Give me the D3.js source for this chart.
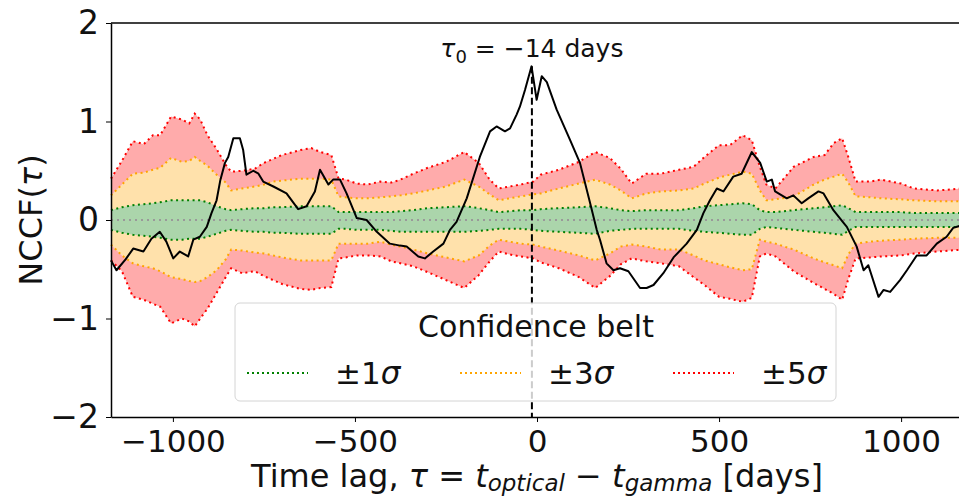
<!DOCTYPE html>
<html>
<head>
<meta charset="utf-8">
<script src="https://cdn.jsdelivr.net/npm/d3@7"></script>
<style>
body { margin: 0; background: #fff; }
svg { display: block; font-family: "DejaVu Sans", sans-serif; }
</style>
</head>
<body>
<div id="chart"></div>
<script>
let lags = [-1170, -1140, -1110, -1080, -1055, -1035, -1005, -975, -955, -940, -925, -905, -880, -855, -840, -810, -775, -750, -725, -700,
    -650, -620, -595, -565, -545, -525, -495, -465, -430, -400, -375, -340, -300, -250, -200, -160, -130, -105, -75, -45,
    -10, 10, 60, 115, 160, 200, 230, 260, 300, 340, 390, 430, 460, 500, 530, 565, 590, 612, 630, 655,
    705, 760, 790, 815, 838, 855, 875, 915, 945, 1000, 1035, 1100, 1170];

let sig5Up = [0.42, 0.60, 0.80, 0.77, 0.86, 0.86, 1.05, 1.02, 0.98, 1.08, 1.02, 0.86, 0.72, 0.56, 0.49, 0.50, 0.52, 0.58, 0.62, 0.66,
    0.71, 0.73, 0.69, 0.66, 0.42, 0.41, 0.37, 0.36, 0.39, 0.38, 0.41, 0.47, 0.53, 0.59, 0.69, 0.58, 0.41, 0.32, 0.34, 0.36,
    0.39, 0.46, 0.51, 0.59, 0.69, 0.63, 0.52, 0.37, 0.47, 0.47, 0.51, 0.54, 0.64, 0.76, 0.76, 0.86, 0.81, 0.54, 0.36, 0.32,
    0.54, 0.64, 0.66, 0.78, 0.83, 0.64, 0.39, 0.39, 0.41, 0.37, 0.32, 0.30, 0.32];

let sig3Up = [0.25, 0.36, 0.47, 0.48, 0.51, 0.53, 0.63, 0.59, 0.60, 0.64, 0.60, 0.55, 0.46, 0.38, 0.30, 0.32, 0.34, 0.36, 0.39, 0.40,
    0.42, 0.42, 0.42, 0.41, 0.24, 0.23, 0.22, 0.22, 0.23, 0.24, 0.25, 0.27, 0.30, 0.34, 0.41, 0.34, 0.26, 0.20, 0.22, 0.24,
    0.26, 0.27, 0.32, 0.37, 0.41, 0.36, 0.30, 0.22, 0.27, 0.29, 0.30, 0.32, 0.37, 0.43, 0.46, 0.49, 0.47, 0.30, 0.20, 0.21,
    0.24, 0.36, 0.41, 0.44, 0.47, 0.38, 0.24, 0.23, 0.22, 0.21, 0.20, 0.19, 0.19];

let sig1Up = [0.10, 0.13, 0.15, 0.16, 0.17, 0.18, 0.20, 0.20, 0.20, 0.20, 0.20, 0.18, 0.14, 0.11, 0.10, 0.11, 0.12, 0.12, 0.13, 0.13,
    0.14, 0.14, 0.14, 0.14, 0.08, 0.08, 0.08, 0.08, 0.08, 0.08, 0.09, 0.10, 0.12, 0.13, 0.14, 0.12, 0.10, 0.08, 0.09, 0.10,
    0.10, 0.11, 0.12, 0.13, 0.14, 0.12, 0.10, 0.09, 0.10, 0.10, 0.10, 0.12, 0.14, 0.15, 0.16, 0.17, 0.16, 0.10, 0.08, 0.08,
    0.10, 0.12, 0.13, 0.14, 0.15, 0.12, 0.08, 0.08, 0.08, 0.08, 0.07, 0.07, 0.07];

let sig1Lo = [-0.10, -0.13, -0.15, -0.16, -0.17, -0.18, -0.20, -0.20, -0.19, -0.19, -0.19, -0.17, -0.14, -0.11, -0.10, -0.11, -0.12, -0.12, -0.13, -0.13,
    -0.14, -0.14, -0.14, -0.14, -0.09, -0.09, -0.10, -0.10, -0.10, -0.11, -0.12, -0.12, -0.12, -0.12, -0.12, -0.11, -0.10, -0.09, -0.09, -0.09,
    -0.10, -0.11, -0.12, -0.13, -0.14, -0.11, -0.10, -0.09, -0.09, -0.09, -0.09, -0.11, -0.12, -0.13, -0.14, -0.15, -0.15, -0.09, -0.07, -0.08,
    -0.10, -0.12, -0.13, -0.14, -0.15, -0.11, -0.07, -0.07, -0.07, -0.07, -0.07, -0.07, -0.07];

let sig3Lo = [-0.25, -0.36, -0.44, -0.47, -0.49, -0.52, -0.58, -0.60, -0.62, -0.63, -0.62, -0.58, -0.51, -0.40, -0.30, -0.31, -0.33, -0.34, -0.36, -0.38,
    -0.41, -0.41, -0.41, -0.41, -0.24, -0.24, -0.24, -0.24, -0.22, -0.25, -0.27, -0.30, -0.34, -0.38, -0.42, -0.36, -0.26, -0.20, -0.22, -0.24,
    -0.25, -0.27, -0.31, -0.36, -0.41, -0.34, -0.27, -0.25, -0.27, -0.30, -0.30, -0.36, -0.41, -0.45, -0.48, -0.51, -0.50, -0.20, -0.22, -0.24,
    -0.30, -0.39, -0.43, -0.46, -0.49, -0.35, -0.24, -0.22, -0.21, -0.20, -0.19, -0.18, -0.18];

let sig5Lo = [-0.41, -0.52, -0.78, -0.81, -0.85, -0.88, -1.05, -1.00, -1.03, -1.08, -1.00, -0.90, -0.74, -0.58, -0.49, -0.54, -0.52, -0.57, -0.61, -0.65,
    -0.70, -0.71, -0.69, -0.68, -0.39, -0.38, -0.36, -0.36, -0.37, -0.42, -0.44, -0.47, -0.53, -0.61, -0.69, -0.56, -0.42, -0.32, -0.35, -0.37,
    -0.39, -0.43, -0.49, -0.58, -0.69, -0.57, -0.45, -0.39, -0.42, -0.44, -0.47, -0.58, -0.66, -0.78, -0.80, -0.83, -0.79, -0.37, -0.34, -0.37,
    -0.52, -0.64, -0.70, -0.75, -0.81, -0.60, -0.39, -0.38, -0.37, -0.36, -0.34, -0.32, -0.30];

let nccfLag = [-1170, -1155, -1130, -1109, -1081, -1059, -1036, -1018, -999, -981, -958, -944, -926, -907, -894, -880, -870, -857, -848, -834,
    -816, -807, -798, -779, -765, -752, -724, -688, -656, -633, -610, -596, -573, -560, -541, -523, -495, -468, -440, -404,
    -376, -358, -326, -308, -285, -257, -239, -221, -193, -157, -129, -111, -88, -74, -56, -47, -33, -15, -1, 13,
    27, 54, 91, 118, 146, 164, 173, 191, 210, 228, 251, 283, 301, 320, 347, 375, 411, 439, 457, 475,
    494, 512, 539, 562, 590, 613, 631, 645, 654, 686, 704, 727, 745, 773, 787, 814, 842, 851, 878, 897,
    910, 938, 952, 970, 997, 1016, 1043, 1070, 1098, 1125, 1143, 1170];

let nccfVal = [-0.41, -0.51, -0.40, -0.29, -0.32, -0.19, -0.12, -0.22, -0.39, -0.32, -0.37, -0.20, -0.17, -0.07, 0.07, 0.20, 0.40, 0.58, 0.64, 0.83,
    0.83, 0.71, 0.46, 0.50, 0.47, 0.39, 0.34, 0.27, 0.11, 0.14, 0.29, 0.51, 0.36, 0.41, 0.41, 0.27, 0.02, 0.00, -0.12, -0.24,
    -0.26, -0.27, -0.37, -0.39, -0.32, -0.24, -0.10, -0.02, 0.22, 0.64, 0.90, 0.95, 0.90, 0.93, 1.07, 1.15, 1.32, 1.56, 1.22, 1.46,
    1.40, 1.12, 0.81, 0.58, 0.17, -0.10, -0.20, -0.44, -0.51, -0.49, -0.52, -0.69, -0.69, -0.66, -0.54, -0.38, -0.24, -0.10, 0.07, 0.20,
    0.32, 0.29, 0.44, 0.47, 0.69, 0.58, 0.39, 0.41, 0.29, 0.22, 0.25, 0.17, 0.22, 0.29, 0.27, 0.10, -0.03, -0.07, -0.27, -0.51,
    -0.46, -0.78, -0.71, -0.73, -0.61, -0.51, -0.36, -0.36, -0.24, -0.17, -0.08, -0.05];

let peakLag = -14;
let xTicks = [-1000, -500, 0, 500, 1000];
let yTicks = [-2, -1, 0, 1, 2];
let beltLabels = ["1", "3", "5"];
let beltColors = ["green", "orange", "red"];

let width = 959, height = 497;
let margin = {left: 111, top: 23, bottom: 80};

let x = d3.scaleLinear().domain([-1170, 1170]).range([margin.left, 963]);
let y = d3.scaleLinear().domain([-2, 2]).range([height - margin.bottom, margin.top]);

let svg = d3.select("#chart").append("svg").attr("width", width).attr("height", height);

let band = function(lo, hi) {
    return d3.area().x(function(d, i) { return x(lags[i]); })
        .y0(function(d, i) { return y(lo[i]); })
        .y1(function(d, i) { return y(hi[i]); })(lags);
};

let edge = function(v) {
    return d3.line().x(function(d, i) { return x(lags[i]); })
        .y(function(d, i) { return y(v[i]); })(lags);
};

let plot = svg.append("g");

plot.append("path").attr("d", band(sig3Up, sig5Up)).attr("fill", "red").attr("fill-opacity", 0.33);
plot.append("path").attr("d", band(sig5Lo, sig3Lo)).attr("fill", "red").attr("fill-opacity", 0.33);
plot.append("path").attr("d", band(sig1Up, sig3Up)).attr("fill", "orange").attr("fill-opacity", 0.33);
plot.append("path").attr("d", band(sig3Lo, sig1Lo)).attr("fill", "orange").attr("fill-opacity", 0.33);
plot.append("path").attr("d", band(sig1Lo, sig1Up)).attr("fill", "green").attr("fill-opacity", 0.33);

[[sig5Up, "red"], [sig5Lo, "red"], [sig3Up, "orange"], [sig3Lo, "orange"], [sig1Up, "green"], [sig1Lo, "green"]].forEach(function(e) {
    plot.append("path").attr("d", edge(e[0])).attr("fill", "none").attr("stroke", e[1])
        .attr("stroke-width", 2).attr("stroke-dasharray", "2,3.5");
});

plot.append("line").attr("x1", x(-1170)).attr("x2", x(1170)).attr("y1", y(0)).attr("y2", y(0))
    .attr("stroke", "#999").attr("stroke-width", 2).attr("stroke-dasharray", "2,4");

plot.append("path").datum(nccfLag).attr("d", d3.line().x(function(d) { return x(d); })
    .y(function(d, i) { return y(nccfVal[i]); })).attr("fill", "none").attr("stroke", "black")
    .attr("stroke-width", 2).attr("stroke-linejoin", "round");

plot.append("line").attr("x1", x(peakLag)).attr("x2", x(peakLag)).attr("y1", y(nccfVal[nccfLag.indexOf(-15)])).attr("y2", y(-2))
    .attr("stroke", "black").attr("stroke-width", 2).attr("stroke-dasharray", "7,3.5");

let note = svg.append("text").attr("x", x(peakLag)).attr("y", 57).attr("text-anchor", "middle")
    .style("font-size", "25px").attr("fill", "#111");
note.append("tspan").style("font-style", "italic").text("τ");
note.append("tspan").attr("dy", 6).style("font-size", "18px").text("0");
note.append("tspan").attr("dy", -6).text(" = −14 days");

// axes
svg.append("g").attr("transform", "translate(0," + y(-2) + ")")
    .call(d3.axisBottom(x).tickValues(xTicks).tickFormat(d3.format("d")).tickSize(5).tickPadding(8).tickSizeOuter(0))
    .call(function(g) {
        g.select(".domain").attr("stroke-width", 1.5);
        g.selectAll("text").style("font-size", "31px").attr("font-family", "DejaVu Sans").attr("fill", "#111");
    });

svg.append("g").attr("transform", "translate(" + margin.left + ",0)")
    .call(d3.axisLeft(y).tickValues(yTicks).tickFormat(d3.format("d")).tickSize(5).tickPadding(7).tickSizeOuter(0))
    .call(function(g) {
        g.select(".domain").attr("stroke-width", 1.5);
        g.selectAll("text").style("font-size", "33px").attr("font-family", "DejaVu Sans").attr("fill", "#111");
    });

svg.append("line").attr("x1", margin.left).attr("x2", width).attr("y1", y(2)).attr("y2", y(2))
    .attr("stroke", "black").attr("stroke-width", 1.5);

let xl = svg.append("text").attr("x", x(0)).attr("y", 487).attr("text-anchor", "middle")
    .style("font-size", "32px").attr("fill", "#111");
xl.append("tspan").text("Time lag, ");
xl.append("tspan").style("font-style", "italic").text("τ");
xl.append("tspan").text(" = ");
xl.append("tspan").style("font-style", "italic").text("t");
xl.append("tspan").attr("dy", 4).style("font-size", "23px").style("font-style", "italic").text("optical");
xl.append("tspan").attr("dy", -4).text(" − ");
xl.append("tspan").style("font-style", "italic").text("t");
xl.append("tspan").attr("dy", 4).style("font-size", "23px").style("font-style", "italic").text("gamma");
xl.append("tspan").attr("dy", -4).text(" [days]");

let yl = svg.append("text").attr("transform", "translate(42," + y(0) + ") rotate(-90)")
    .attr("text-anchor", "middle").style("font-size", "32px").attr("fill", "#111");
yl.append("tspan").text("NCCF(");
yl.append("tspan").style("font-style", "italic").text("τ");
yl.append("tspan").text(")");

// legend
let legend = svg.append("g").attr("transform", "translate(235,303)");

legend.append("rect").attr("width", 601).attr("height", 98).attr("rx", 5)
    .attr("fill", "white").attr("fill-opacity", 0.8).attr("stroke", "#d4d4d4").attr("stroke-width", 1);

legend.append("text").attr("x", 301).attr("y", 34).attr("text-anchor", "middle")
    .style("font-size", "30px").attr("fill", "#111").text("Confidence belt");

let item = legend.selectAll(".item").data(beltLabels).enter().append("g").attr("class", "item")
    .attr("transform", function(d, i) { return "translate(" + (12 + i * 213) + ",70)"; });

item.append("line").attr("x1", 0).attr("x2", 61).attr("y1", 0).attr("y2", 0)
    .attr("stroke", function(d, i) { return beltColors[i]; }).attr("stroke-width", 2).attr("stroke-dasharray", "2,3");

let lab = item.append("text").attr("x", 88).attr("y", 11).style("font-size", "31px").attr("fill", "#111");
lab.append("tspan").text(function(d) { return "±" + d; });
lab.append("tspan").style("font-style", "italic").text("σ");
</script>
</body>
</html>
